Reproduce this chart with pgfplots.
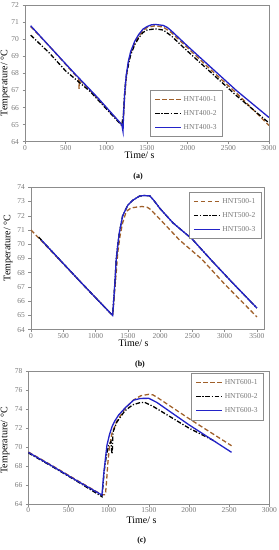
\documentclass[border=0pt]{standalone}
\usepackage{pgfplots}
\pgfplotsset{compat=1.18}
\usepackage{fontspec}
\setmainfont{Liberation Serif}
\definecolor{axgray}{RGB}{140,140,140}
\definecolor{txtgray}{RGB}{120,120,120}
\definecolor{myblue}{RGB}{35,35,200}
\definecolor{mybrown}{RGB}{160,96,42}
\pgfplotsset{
 myax/.style={
  scale only axis, anchor=south west,
  axis line style={draw=axgray, line width=0.8pt},
  tick style={draw=axgray, line width=0.5pt},
  tick align=outside, major tick length=2.5pt,
  xtick pos=bottom, ytick pos=left,
  ticklabel style={font=\fontsize{7.5}{8}\selectfont, text=txtgray},
  xticklabel style={inner sep=1pt},
  /pgf/number format/assume math mode=true,
  /pgf/number format/1000 sep={},
  label style={font=\fontsize{7.5}{8}\selectfont, text=txtgray, inner sep=0.5pt},
  legend style={font=\fontsize{7.5}{9}\selectfont, text=txtgray, draw=axgray, fill=white,
    line width=0.6pt, row sep=3.5pt, inner xsep=4pt, inner ysep=4pt},
  legend cell align=left,
  legend image code/.code={\draw[##1] (0pt,0pt) -- (26pt,0pt);},
  every axis plot/.append style={line width=1.3pt},
  s1/.style={mybrown, dash pattern=on 4.5pt off 2.5pt},
  s2/.style={black, dash pattern=on 4.5pt off 1.8pt on 1.2pt off 1.8pt},
  s3/.style={myblue, solid},
 }
}
\begin{document}
\begin{tikzpicture}
\path[use as bounding box] (0pt,0pt) rectangle (279pt,550pt);
% ---------------- (a)
\begin{axis}[myax, at={(25pt,408.3pt)}, width=244pt, height=136.4pt,
  xmin=0, xmax=3000, ymin=64, ymax=72,
  xtick={0,500,...,3000}, ytick={64,65,...,72},
  xlabel={Time/ s}, ylabel={Temperature/ °C},
  every axis x label/.style={at={(axis description cs:0.47,0)}, anchor=center, yshift=-14pt},
  every axis y label/.style={at={(axis description cs:0,0.43)}, anchor=center, xshift=-20pt, rotate=90},
  legend style={at={(0.811,0.035)}, anchor=south east}]
\addplot[s1] coordinates {(70,70.75) (300,69.6) (600,68.0) (660,67.7) (665,67.1) (670,67.65) (900,66.5) (1190,65.0) (1205,65.2) (1212,65.5) (1225,66.6) (1245,67.7) (1270,68.6) (1300,69.2) (1350,69.8) (1400,70.2) (1450,70.5) (1500,70.7) (1600,70.8) (1700,70.72) (1800,70.4) (2000,69.5) (2300,68.15) (2600,66.85) (3000,64.95)};
\addplot[s2] coordinates {(70,70.25) (300,69.2) (500,68.15) (700,67.35) (800,66.95) (1190,64.95) (1200,65.3) (1210,65.6) (1215,66.0) (1230,67.2) (1250,68.0) (1280,68.7) (1300,69.1) (1350,69.7) (1400,70.1) (1450,70.4) (1500,70.55) (1600,70.62) (1700,70.55) (1800,70.2) (2000,69.3) (2300,68.0) (2600,66.7) (3000,65.1)};
\addplot[s3] coordinates {(70,70.8) (300,69.6) (600,68.05) (900,66.55) (1190,65.0) (1205,64.6) (1212,65.6) (1225,66.8) (1245,67.9) (1270,68.7) (1300,69.3) (1350,69.9) (1400,70.3) (1450,70.6) (1500,70.75) (1550,70.85) (1600,70.88) (1700,70.82) (1750,70.7) (1800,70.5) (2000,69.6) (2300,68.3) (2600,67.0) (3000,65.42)};
\legend{HNT400-1,HNT400-2,HNT400-3}
\end{axis}
\node[font=\fontsize{8}{9}\selectfont\bfseries] at (138pt,373pt) {(a)};
% ---------------- (b)
\begin{axis}[myax, at={(31pt,220.3pt)}, width=233pt, height=142.4pt,
  xmin=0, xmax=3610, ymin=64, ymax=74,
  xtick={0,500,...,3500}, ytick={64,65,...,74},
  xlabel={Time/ s}, ylabel={Temperature/ °C},
  every axis x label/.style={at={(axis description cs:0.44,0)}, anchor=center, yshift=-14pt},
  every axis y label/.style={at={(axis description cs:0,0.574)}, anchor=center, xshift=-23pt, rotate=90},
  legend style={at={(0.99,0.967)}, anchor=north east}]
\addplot[s1] coordinates {(0,71.0) (160,70.25) (500,68.62) (800,67.2) (1000,66.25) (1265,65.0) (1280,65.8) (1300,66.9) (1320,68.0) (1344,69.4) (1380,70.6) (1420,71.5) (1475,72.3) (1550,72.55) (1650,72.62) (1720,72.65) (1800,72.6) (1850,72.45) (2000,71.75) (2300,70.3) (2647,68.95) (3000,67.2) (3500,64.9)};
\addplot[s2] coordinates {(120,70.5) (160,70.3) (500,68.65) (800,67.2) (1000,66.25) (1265,65.0) (1280,66.0) (1300,67.3) (1320,68.9) (1345,70.0) (1370,70.85) (1420,72.0) (1500,72.75) (1580,73.1) (1680,73.38) (1750,73.42) (1840,73.4) (1900,73.1) (2000,72.5) (2200,71.5) (2500,70.35) (2800,68.85) (3100,67.4) (3500,65.52)};
\addplot[s3] coordinates {(160,70.3) (500,68.65) (800,67.2) (1000,66.25) (1265,65.0) (1280,66.0) (1300,67.3) (1320,68.9) (1345,70.0) (1370,70.85) (1420,72.0) (1500,72.75) (1580,73.1) (1680,73.38) (1750,73.42) (1840,73.4) (1900,73.1) (2000,72.5) (2200,71.5) (2500,70.35) (2800,68.85) (3100,67.4) (3500,65.52)};
\legend{HNT500-1,HNT500-2,HNT500-3}
\end{axis}
\node[font=\fontsize{8}{9}\selectfont\bfseries] at (140pt,185pt) {(b)};
% ---------------- (c)
\begin{axis}[myax, at={(28.3pt,45.7pt)}, width=241pt, height=133.3pt,
  xmin=0, xmax=3000, ymin=64, ymax=78,
  xtick={0,500,...,3000}, ytick={64,66,...,78},
  xlabel={Time/ s}, ylabel={Temperature/ °C},
  every axis x label/.style={at={(axis description cs:0.47,0)}, anchor=center, yshift=-15.7pt},
  every axis y label/.style={at={(axis description cs:0,0.48)}, anchor=center, xshift=-23.3pt, rotate=90},
  legend style={at={(0.978,0.983)}, anchor=north east}]
\addplot[s1] coordinates {(0,69.5) (300,68.05) (600,66.55) (917,65.0) (960,65.0) (975,66.5) (990,68.3) (1010,70.0) (1040,71.4) (1100,72.7) (1200,74.0) (1300,74.9) (1400,75.4) (1500,75.55) (1550,75.5) (1600,75.25) (2000,73.0) (2530,70.15)};
\addplot[s2] coordinates {(0,69.4) (300,67.95) (600,66.45) (917,64.8) (925,65.5) (945,67.5) (970,69.0) (1000,70.2) (1030,70.6) (1040,69.3) (1045,69.5) (1055,71.6) (1100,72.6) (1200,73.8) (1300,74.45) (1400,74.7) (1450,74.7) (1550,74.3) (2000,72.0) (2333,70.58)};
\addplot[s3] coordinates {(0,69.46) (300,68.0) (600,66.5) (917,64.97) (925,65.8) (938,67.1) (960,68.8) (979,70.2) (1010,71.3) (1042,72.15) (1080,72.8) (1125,73.38) (1208,74.15) (1313,74.95) (1400,75.12) (1500,75.13) (1600,74.7) (2000,72.35) (2530,69.46)};
\legend{HNT600-1,HNT600-2,HNT600-3}
\end{axis}
\node[font=\fontsize{8}{9}\selectfont\bfseries] at (141.7pt,9.3pt) {(c)};
\end{tikzpicture}
\end{document}
